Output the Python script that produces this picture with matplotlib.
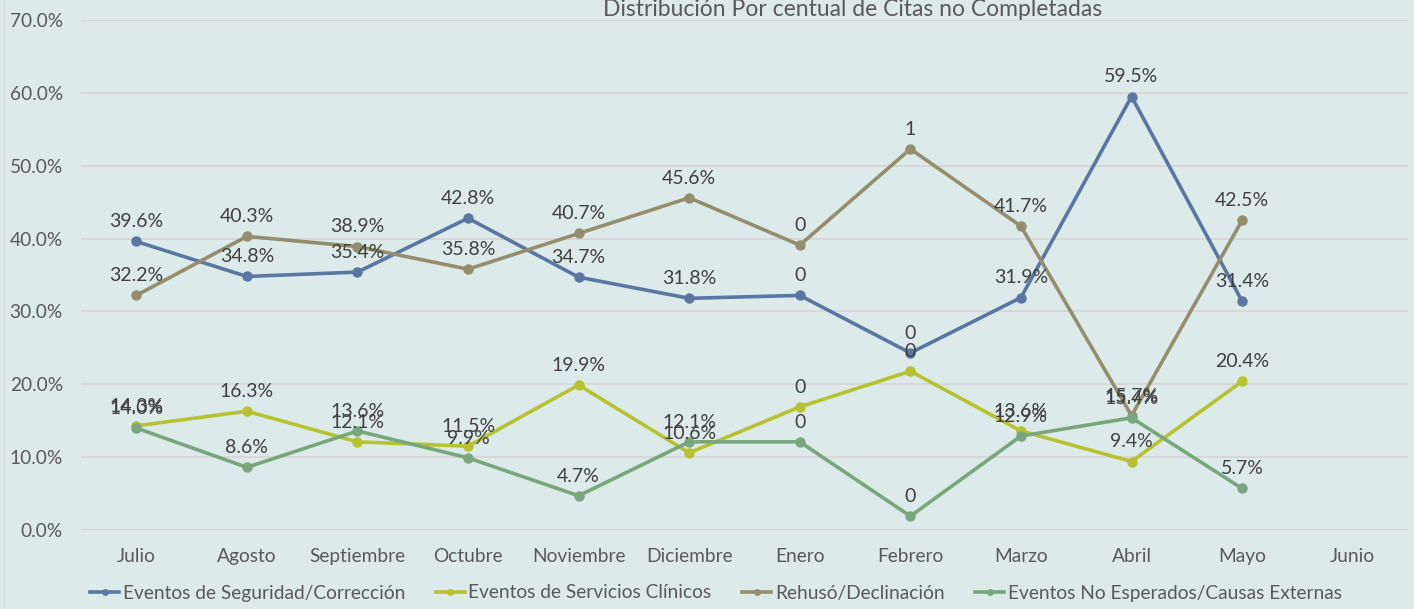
import matplotlib
matplotlib.use("Agg")
import matplotlib.pyplot as plt
from matplotlib.ticker import FuncFormatter, MultipleLocator

plt.rcParams['font.family'] = ['Lato', 'DejaVu Sans']

months = ["Julio", "Agosto", "Septiembre", "Octubre", "Noviembre", "Diciembre",
          "Enero", "Febrero", "Marzo", "Abril", "Mayo", "Junio"]

seguridad = [39.6, 34.8, 35.4, 42.8, 34.7, 31.8, 32.2, 24.3, 31.9, 59.5, 31.4]
servicios = [14.3, 16.3, 12.1, 11.5, 19.9, 10.6, 16.9, 21.8, 13.6, 9.4, 20.4]
rehuso = [32.2, 40.3, 38.9, 35.8, 40.7, 45.6, 39.1, 52.3, 41.7, 15.7, 42.5]
no_esperados = [14.0, 8.6, 13.6, 9.9, 4.7, 12.1, 12.1, 1.9, 12.9, 15.4, 5.7]

lab_seguridad = ["39.6%", "34.8%", "35.4%", "42.8%", "34.7%", "31.8%", "0", "0", "31.9%", "59.5%", "31.4%"]
lab_servicios = ["14.3%", "16.3%", "12.1%", "11.5%", "19.9%", "10.6%", "0", "0", "13.6%", "9.4%", "20.4%"]
lab_rehuso = ["32.2%", "40.3%", "38.9%", "35.8%", "40.7%", "45.6%", "0", "1", "41.7%", "15.7%", "42.5%"]
lab_no_esperados = ["14.0%", "8.6%", "13.6%", "9.9%", "4.7%", "12.1%", "0", "0", "12.9%", "15.4%", "5.7%"]

series = [
    ("Eventos de Seguridad/Corrección", seguridad, lab_seguridad, "#5b76a3"),
    ("Eventos de Servicios Clínicos", servicios, lab_servicios, "#b6c22f"),
    ("Rehusó/Declinación", rehuso, lab_rehuso, "#948e6e"),
    ("Eventos No Esperados/Causas Externas", no_esperados, lab_no_esperados, "#79a67c"),
]

bg = "#dcebe9"
fig = plt.figure(figsize=(14.14, 6.09), dpi=100, facecolor=bg)
ax = fig.add_axes([81/1414, 1 - 530/609, (1408-81)/1414, (530-20)/609])
ax.set_facecolor(bg)

x = list(range(len(months)))
for name, vals, labs, col in series:
    xs = x[:len(vals)]
    ax.plot(xs, vals, color=col, lw=2.6, marker='o', ms=6.5, label=name, zorder=3)
    for xi, v, t in zip(xs, vals, labs):
        ax.annotate(t, (xi, v), xytext=(0, 8), textcoords='offset points',
                    ha='center', va='bottom', fontsize=14, color="#404040", zorder=4)

ax.set_xlim(-0.5, len(months) - 0.5)
ax.set_ylim(0, 70)
ax.yaxis.set_major_locator(MultipleLocator(10))
ax.yaxis.set_major_formatter(FuncFormatter(lambda v, p: f"{v:.1f}%"))
ax.set_xticks(x)
ax.set_xticklabels(months)
ax.grid(axis='y', color="#d8d2d5", lw=1.2, zorder=0)
for s in ax.spines.values():
    s.set_visible(False)
ax.tick_params(axis='x', length=0, labelsize=13.8, colors="#595959", pad=13)
ax.tick_params(axis='y', length=0, labelsize=13.8, colors="#595959", pad=13)

fig.text(853/1414, 1 - 10/609, "Distribución Por centual de Citas no Completadas",
         ha='center', va='center', fontsize=16.5, color="#595959")

leg = fig.legend(loc='center', bbox_to_anchor=(716/1414, 1 - 593/609), ncol=4,
                 frameon=False, fontsize=13.8, handlelength=1.5, handletextpad=0.2,
                 columnspacing=1.6, markerscale=0.6)
for t in leg.get_texts():
    t.set_color("#595959")

fig.add_artist(plt.Line2D([4/1414, 4/1414], [0, 1], color="#cfd6d4", lw=1))

fig.savefig("out.png", dpi=100, facecolor=bg)
